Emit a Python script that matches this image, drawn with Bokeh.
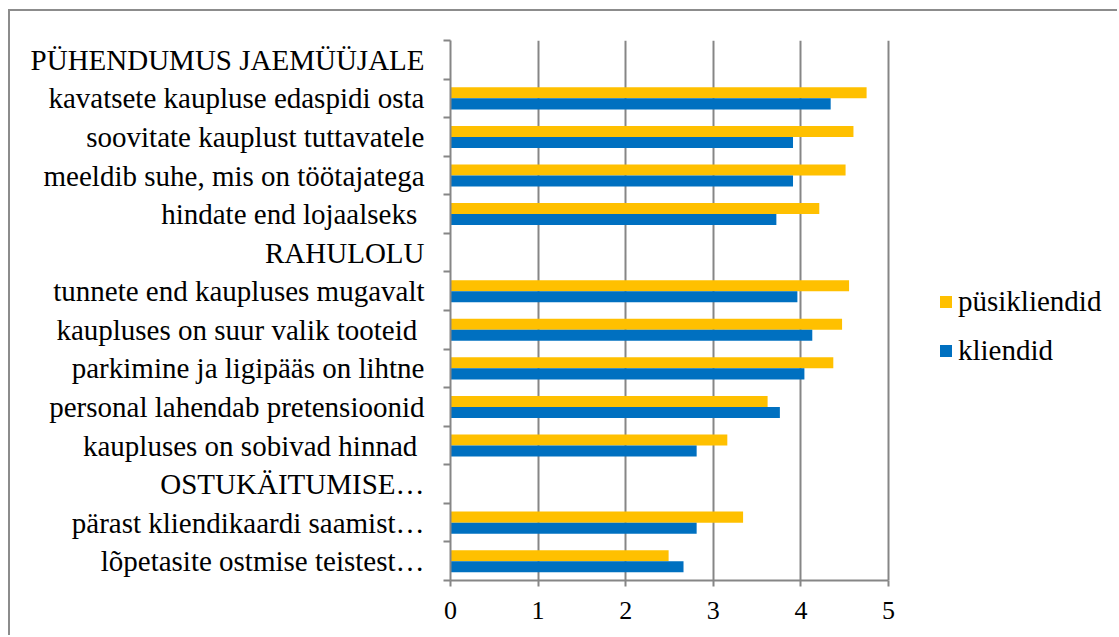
import numpy as np
from bokeh.plotting import figure
from bokeh.models import Range1d, FixedTicker, Legend, LegendItem, ColumnDataSource
from bokeh.embed import file_html
from bokeh.resources import INLINE

# categories from bottom to top
categories = [
    "lõpetasite ostmise teistest…",
    "pärast kliendikaardi saamist…",
    "OSTUKÄITUMISE…",
    "kaupluses on  sobivad hinnad",
    "personal lahendab pretensioonid",
    "parkimine ja ligipääs on lihtne",
    "kaupluses on  suur valik tooteid",
    "tunnete end kaupluses mugavalt",
    "RAHULOLU",
    "hindate end lojaalseks ",
    "meeldib suhe, mis on töötajatega",
    "soovitate kauplust tuttavatele",
    "kavatsete kaupluse edaspidi osta",
    "PÜHENDUMUS JAEMÜÜJALE",
]
pysikliendid = [2.49, 3.34, None, 3.16, 3.62, 4.37, 4.47, 4.55, None, 4.21, 4.51, 4.60, 4.75, None]
kliendid = [2.66, 2.81, None, 2.81, 3.76, 4.04, 4.13, 3.96, None, 3.72, 3.91, 3.91, 4.34, None]
series_names = ["püsikliendid", "kliendid"]
x_ticks = [0, 1, 2, 3, 4, 5]

YELLOW = "#FFC000"
BLUE = "#0070C0"
GRAY = "#868686"
FONT = "Liberation Serif"

n = len(categories)
centers = np.arange(n) + 0.5
bar_h = 0.286

def src(vals, off):
    ys, xs = [], []
    for c, v in zip(centers, vals):
        if v is not None:
            ys.append(c + off)
            xs.append(v)
    return ColumnDataSource(dict(y=ys, right=xs))

# frame spans to the right edge; the value axis is bounded to 0..5
x_end = 669 / 87.6

p = figure(
    width=1109, height=626,
    x_range=Range1d(0, x_end), y_range=Range1d(0, n),
    output_backend="svg", toolbar_location=None,
    min_border_left=440, min_border_right=0, min_border_top=29, min_border_bottom=57,
)
p.margin = (9, 0, 0, 8)
p.styles = {"border-top": "2px solid #8c8c8c", "border-left": "2px solid #8c8c8c"}
p.outline_line_color = None
p.background_fill_color = "white"
p.border_fill_color = "white"

r1 = p.hbar(y="y", right="right", left=0, height=bar_h, source=src(pysikliendid, bar_h / 2),
            fill_color=YELLOW, line_color=None)
r2 = p.hbar(y="y", right="right", left=0, height=bar_h, source=src(kliendid, -bar_h / 2),
            fill_color=BLUE, line_color=None)

# x axis
xa = p.xaxis[0]
xa.ticker = FixedTicker(ticks=x_ticks)
xa.bounds = (x_ticks[0], x_ticks[-1])
xa.axis_line_color = GRAY
xa.axis_line_width = 2
xa.major_tick_line_color = GRAY
xa.major_tick_line_width = 2
xa.major_tick_out = 6
xa.major_tick_in = 0
xa.minor_tick_line_color = None
xa.major_label_text_font = FONT
xa.major_label_text_font_size = "26px"
xa.major_label_text_color = "black"
xa.major_label_standoff = 15

# y axis
ya = p.yaxis[0]
ya.ticker = FixedTicker(ticks=list(centers), minor_ticks=list(range(n + 1)))
ya.major_label_overrides = {float(c): lab for c, lab in zip(centers, categories)}
ya.axis_line_color = GRAY
ya.axis_line_width = 2
ya.major_tick_line_color = None
ya.major_tick_out = 0
ya.major_tick_in = 0
ya.minor_tick_line_color = GRAY
ya.minor_tick_line_width = 2
ya.minor_tick_out = 7
ya.minor_tick_in = 0
ya.major_label_text_font = FONT
ya.major_label_text_font_size = "29px"
ya.major_label_text_color = "black"
ya.major_label_standoff = 19

p.ygrid.grid_line_color = None
p.xgrid.ticker = FixedTicker(ticks=x_ticks)
p.xgrid.grid_line_color = GRAY
p.xgrid.grid_line_width = 2

legend = Legend(
    items=[LegendItem(label=series_names[0], renderers=[r1]),
           LegendItem(label=series_names[1], renderers=[r2])],
    location=(488, 213),
    glyph_width=15, glyph_height=15,
    label_text_font=FONT, label_text_font_size="29px", label_text_color="black",
    label_height=34, label_standoff=5, spacing=15,
    padding=0, margin=0, border_line_color=None, background_fill_alpha=0,
)
p.add_layout(legend, "center")

open("out.html", "w").write(file_html(p, INLINE))
